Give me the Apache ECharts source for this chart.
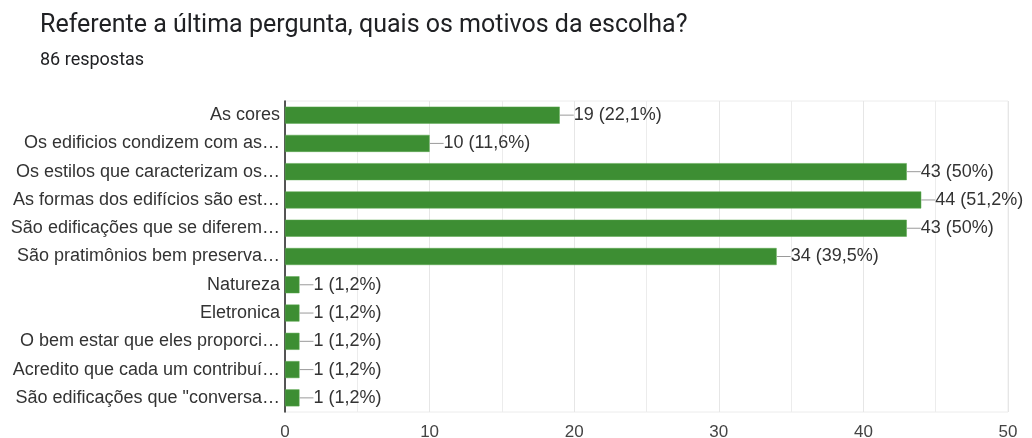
<!DOCTYPE html>
<html><head><meta charset="utf-8">
<script src="https://cdn.jsdelivr.net/npm/echarts@6/dist/echarts.min.js"></script>
<style>html,body{margin:0;padding:0;background:#fff}#c{width:1032px;height:438px}</style>
</head><body><div id="c"></div>
<script>
const titleText = 'Referente a última pergunta, quais os motivos da escolha?';
const subtitleText = '86 respostas';
const categories = [
  'As cores',
  'Os edificios condizem com as…',
  'Os estilos que caracterizam os…',
  'As formas dos edifícios são est…',
  'São edificações que se diferem…',
  'São pratimônios bem preserva…',
  'Natureza',
  'Eletronica',
  'O bem estar que eles proporci…',
  'Acredito que cada um contribuí…',
  'São edificações que "conversa…'
];
const counts = [19, 10, 43, 44, 43, 34, 1, 1, 1, 1, 1];
const percents = ['22,1%', '11,6%', '50%', '51,2%', '50%', '39,5%', '1,2%', '1,2%', '1,2%', '1,2%', '1,2%'];
const xTicks = [0, 10, 20, 30, 40, 50];

const ARIAL = "'Liberation Sans', Arial, sans-serif";
const chart = echarts.init(document.getElementById('c'), null, {renderer: 'canvas'});
chart.setOption({
  animation: false,
  title: [
    {text: titleText, left: 35, top: 8, textStyle: {fontFamily: 'Roboto', fontSize: 25, fontWeight: 'normal', color: '#202124'}},
    {text: subtitleText, left: 35, top: 46, textStyle: {fontFamily: 'Roboto', fontSize: 18, fontWeight: 'normal', color: '#202124'}}
  ],
  grid: {left: 285, right: 24, top: 101, bottom: 26, outerBoundsMode: 'none', containLabel: false,
         show: true, borderColor: '#ececec', borderWidth: 1},
  xAxis: {
    type: 'value', min: xTicks[0], max: xTicks[xTicks.length - 1], interval: 10,
    axisLine: {show: false}, axisTick: {show: false},
    axisLabel: {fontFamily: ARIAL, fontSize: 17, color: '#444', margin: 12},
    splitLine: {show: true, lineStyle: {color: '#e6e6e6'}},
    minorTick: {show: false, splitNumber: 2},
    minorSplitLine: {show: true, lineStyle: {color: '#ececec'}}
  },
  yAxis: {
    type: 'category', data: categories, inverse: true,
    axisLine: {show: true, lineStyle: {color: '#222', width: 1.5}},
    axisTick: {show: false},
    axisLabel: {fontFamily: ARIAL, fontSize: 18, color: '#333', margin: 5}
  },
  series: [{
    type: 'bar', data: counts, barWidth: 17,
    itemStyle: {color: '#3d8e33', borderColor: '#5aa84f', borderWidth: 0.5},
    label: {
      show: true, position: 'right', distance: 0,
      formatter: p => '{ln|}{t|' + counts[p.dataIndex] + ' (' + percents[p.dataIndex] + ')}',
      rich: {
        ln: {width: 14, height: 1, backgroundColor: '#9a9a9a', verticalAlign: 'middle'},
        t: {fontFamily: ARIAL, fontSize: 18, color: '#333', padding: [0, 0, 0, 0]}
      }
    }
  }]
});
</script></body></html>
